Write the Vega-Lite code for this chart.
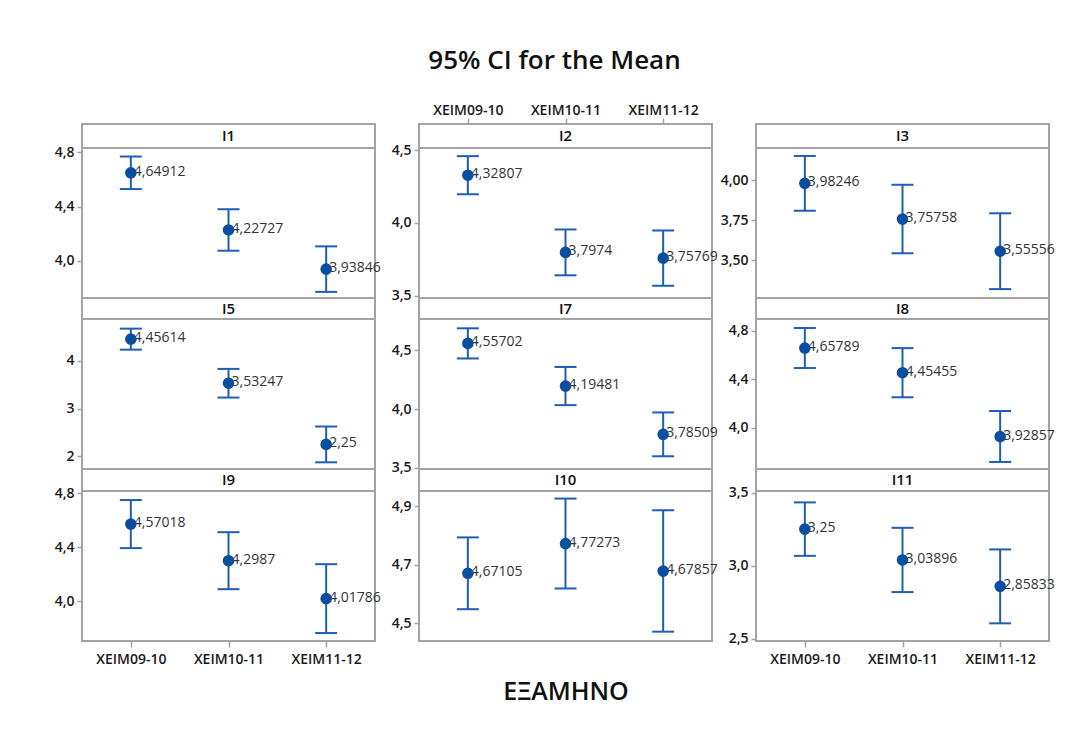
{
  "$schema": "https://vega.github.io/schema/vega-lite/v6.json",
  "padding": {"left": 53, "top": 48, "right": 5, "bottom": 5},
  "title": {"text": "95% CI for the Mean", "font": "Open Sans", "fontSize": 26, "fontWeight": 600, "color": "#111111", "anchor": "middle", "offset": 28},
  "datasets": {
    "ci": [
      {"panel": "I1", "group": "XEIM09-10", "mean": 4.64912, "lo": 4.529, "hi": 4.769},
      {"panel": "I1", "group": "XEIM10-11", "mean": 4.22727, "lo": 4.074, "hi": 4.380},
      {"panel": "I1", "group": "XEIM11-12", "mean": 3.93846, "lo": 3.770, "hi": 4.106},
      {"panel": "I2", "group": "XEIM09-10", "mean": 4.32807, "lo": 4.197, "hi": 4.459},
      {"panel": "I2", "group": "XEIM10-11", "mean": 3.7974, "lo": 3.640, "hi": 3.955},
      {"panel": "I2", "group": "XEIM11-12", "mean": 3.75769, "lo": 3.568, "hi": 3.948},
      {"panel": "I3", "group": "XEIM09-10", "mean": 3.98246, "lo": 3.810, "hi": 4.154},
      {"panel": "I3", "group": "XEIM10-11", "mean": 3.75758, "lo": 3.543, "hi": 3.973},
      {"panel": "I3", "group": "XEIM11-12", "mean": 3.55556, "lo": 3.318, "hi": 3.794},
      {"panel": "I5", "group": "XEIM09-10", "mean": 4.45614, "lo": 4.236, "hi": 4.676},
      {"panel": "I5", "group": "XEIM10-11", "mean": 3.53247, "lo": 3.232, "hi": 3.832},
      {"panel": "I5", "group": "XEIM11-12", "mean": 2.25, "lo": 1.875, "hi": 2.625},
      {"panel": "I7", "group": "XEIM09-10", "mean": 4.55702, "lo": 4.429, "hi": 4.685},
      {"panel": "I7", "group": "XEIM10-11", "mean": 4.19481, "lo": 4.033, "hi": 4.357},
      {"panel": "I7", "group": "XEIM11-12", "mean": 3.78509, "lo": 3.599, "hi": 3.971},
      {"panel": "I8", "group": "XEIM09-10", "mean": 4.65789, "lo": 4.493, "hi": 4.823},
      {"panel": "I8", "group": "XEIM10-11", "mean": 4.45455, "lo": 4.252, "hi": 4.657},
      {"panel": "I8", "group": "XEIM11-12", "mean": 3.92857, "lo": 3.719, "hi": 4.139},
      {"panel": "I9", "group": "XEIM09-10", "mean": 4.57018, "lo": 4.392, "hi": 4.748},
      {"panel": "I9", "group": "XEIM10-11", "mean": 4.2987, "lo": 4.088, "hi": 4.510},
      {"panel": "I9", "group": "XEIM11-12", "mean": 4.01786, "lo": 3.763, "hi": 4.273},
      {"panel": "I10", "group": "XEIM09-10", "mean": 4.67105, "lo": 4.548, "hi": 4.794},
      {"panel": "I10", "group": "XEIM10-11", "mean": 4.77273, "lo": 4.619, "hi": 4.927},
      {"panel": "I10", "group": "XEIM11-12", "mean": 4.67857, "lo": 4.471, "hi": 4.887},
      {"panel": "I11", "group": "XEIM09-10", "mean": 3.25, "lo": 3.067, "hi": 3.433},
      {"panel": "I11", "group": "XEIM10-11", "mean": 3.03896, "lo": 2.819, "hi": 3.259},
      {"panel": "I11", "group": "XEIM11-12", "mean": 2.85833, "lo": 2.605, "hi": 3.111}
    ],
    "panels": [
      {"panel": "I1"}, {"panel": "I2"}, {"panel": "I3"},
      {"panel": "I5"}, {"panel": "I7"}, {"panel": "I8"},
      {"panel": "I9"}, {"panel": "I10"}, {"panel": "I11"}
    ]
  },
  "columns": 3,
  "spacing": {"row": 0, "column": 44},
  "bounds": "flush",
  "align": "each",
  "concat": [
    {"width": 293, "height": 24, "layer": [
      {"data": {"name": "ci"}, "transform": [{"filter": "datum.panel === 'I1'"}], "mark": {"type": "point", "opacity": 0}, "encoding": {"x": {"field": "group", "type": "ordinal", "sort": null, "scale": {"type": "point", "padding": 0.5}, "axis": null}}},
      {"data": {"name": "panels"}, "transform": [{"filter": "datum.panel === 'I1'"}], "mark": {"type": "text", "font": "Open Sans", "fontSize": 15, "fontWeight": 600, "color": "#111111"}, "encoding": {"text": {"field": "panel"}}}]},
    {"width": 293, "height": 24, "layer": [
      {"data": {"name": "ci"}, "transform": [{"filter": "datum.panel === 'I2'"}], "mark": {"type": "point", "opacity": 0}, "encoding": {"x": {"field": "group", "type": "ordinal", "sort": null, "title": null, "scale": {"type": "point", "padding": 0.5}, "axis": {"orient": "top", "labelAngle": 0, "labelPadding": 1}}}},
      {"data": {"name": "panels"}, "transform": [{"filter": "datum.panel === 'I2'"}], "mark": {"type": "text", "font": "Open Sans", "fontSize": 15, "fontWeight": 600, "color": "#111111"}, "encoding": {"text": {"field": "panel"}}}]},
    {"width": 293, "height": 24, "layer": [
      {"data": {"name": "ci"}, "transform": [{"filter": "datum.panel === 'I3'"}], "mark": {"type": "point", "opacity": 0}, "encoding": {"x": {"field": "group", "type": "ordinal", "sort": null, "scale": {"type": "point", "padding": 0.5}, "axis": null}}},
      {"data": {"name": "panels"}, "transform": [{"filter": "datum.panel === 'I3'"}], "mark": {"type": "text", "font": "Open Sans", "fontSize": 15, "fontWeight": 600, "color": "#111111"}, "encoding": {"text": {"field": "panel"}}}]},

    {"width": 293, "height": 150, "data": {"name": "ci"}, "transform": [{"filter": "datum.panel === 'I1'"}],
      "encoding": {"x": {"field": "group", "type": "ordinal", "sort": null, "scale": {"type": "point", "padding": 0.5}, "axis": null}},
      "layer": [
        {"mark": {"type": "text", "align": "left", "baseline": "middle", "dx": 3, "dy": -1, "font": "Open Sans", "fontSize": 14, "color": "#333333"}, "encoding": {"y": {"field": "mean", "type": "quantitative", "title": null, "scale": {"domain": [3.725, 4.832], "nice": false, "zero": false}, "axis": {"values": [4.0, 4.4, 4.8], "format": ".1f"}}, "text": {"field": "mean", "type": "quantitative", "format": ".6~r"}}},
        {"mark": {"type": "rule", "strokeWidth": 2, "color": "#1e5eb3"}, "encoding": {"y": {"field": "lo", "type": "quantitative", "title": null}, "y2": {"field": "hi"}}},
        {"mark": {"type": "tick", "size": 22, "thickness": 2, "color": "#1e5eb3", "opacity": 1}, "encoding": {"y": {"field": "lo", "type": "quantitative", "title": null}}},
        {"mark": {"type": "tick", "size": 22, "thickness": 2, "color": "#1e5eb3", "opacity": 1}, "encoding": {"y": {"field": "hi", "type": "quantitative", "title": null}}},
        {"mark": {"type": "circle", "size": 135, "color": "#0a4f9f", "opacity": 1}, "encoding": {"y": {"field": "mean", "type": "quantitative", "title": null}}}
      ]},
    {"width": 293, "height": 150, "data": {"name": "ci"}, "transform": [{"filter": "datum.panel === 'I2'"}],
      "encoding": {"x": {"field": "group", "type": "ordinal", "sort": null, "scale": {"type": "point", "padding": 0.5}, "axis": null}},
      "layer": [
        {"mark": {"type": "text", "align": "left", "baseline": "middle", "dx": 3, "dy": -1, "font": "Open Sans", "fontSize": 14, "color": "#333333"}, "encoding": {"y": {"field": "mean", "type": "quantitative", "title": null, "scale": {"domain": [3.484, 4.515], "nice": false, "zero": false}, "axis": {"values": [3.5, 4.0, 4.5], "format": ".1f"}}, "text": {"field": "mean", "type": "quantitative", "format": ".6~r"}}},
        {"mark": {"type": "rule", "strokeWidth": 2, "color": "#1e5eb3"}, "encoding": {"y": {"field": "lo", "type": "quantitative", "title": null}, "y2": {"field": "hi"}}},
        {"mark": {"type": "tick", "size": 22, "thickness": 2, "color": "#1e5eb3", "opacity": 1}, "encoding": {"y": {"field": "lo", "type": "quantitative", "title": null}}},
        {"mark": {"type": "tick", "size": 22, "thickness": 2, "color": "#1e5eb3", "opacity": 1}, "encoding": {"y": {"field": "hi", "type": "quantitative", "title": null}}},
        {"mark": {"type": "circle", "size": 135, "color": "#0a4f9f", "opacity": 1}, "encoding": {"y": {"field": "mean", "type": "quantitative", "title": null}}}
      ]},
    {"width": 293, "height": 150, "data": {"name": "ci"}, "transform": [{"filter": "datum.panel === 'I3'"}],
      "encoding": {"x": {"field": "group", "type": "ordinal", "sort": null, "scale": {"type": "point", "padding": 0.5}, "axis": null}},
      "layer": [
        {"mark": {"type": "text", "align": "left", "baseline": "middle", "dx": 3, "dy": -1, "font": "Open Sans", "fontSize": 14, "color": "#333333"}, "encoding": {"y": {"field": "mean", "type": "quantitative", "title": null, "scale": {"domain": [3.262, 4.204], "nice": false, "zero": false}, "axis": {"values": [3.5, 3.75, 4.0], "format": ".2f"}}, "text": {"field": "mean", "type": "quantitative", "format": ".6~r"}}},
        {"mark": {"type": "rule", "strokeWidth": 2, "color": "#1e5eb3"}, "encoding": {"y": {"field": "lo", "type": "quantitative", "title": null}, "y2": {"field": "hi"}}},
        {"mark": {"type": "tick", "size": 22, "thickness": 2, "color": "#1e5eb3", "opacity": 1}, "encoding": {"y": {"field": "lo", "type": "quantitative", "title": null}}},
        {"mark": {"type": "tick", "size": 22, "thickness": 2, "color": "#1e5eb3", "opacity": 1}, "encoding": {"y": {"field": "hi", "type": "quantitative", "title": null}}},
        {"mark": {"type": "circle", "size": 135, "color": "#0a4f9f", "opacity": 1}, "encoding": {"y": {"field": "mean", "type": "quantitative", "title": null}}}
      ]},

    {"width": 293, "height": 21, "layer": [
      {"data": {"name": "ci"}, "transform": [{"filter": "datum.panel === 'I5'"}], "mark": {"type": "point", "opacity": 0}, "encoding": {"x": {"field": "group", "type": "ordinal", "sort": null, "scale": {"type": "point", "padding": 0.5}, "axis": null}}},
      {"data": {"name": "panels"}, "transform": [{"filter": "datum.panel === 'I5'"}], "mark": {"type": "text", "font": "Open Sans", "fontSize": 15, "fontWeight": 600, "color": "#111111"}, "encoding": {"text": {"field": "panel"}}}]},
    {"width": 293, "height": 21, "layer": [
      {"data": {"name": "ci"}, "transform": [{"filter": "datum.panel === 'I7'"}], "mark": {"type": "point", "opacity": 0}, "encoding": {"x": {"field": "group", "type": "ordinal", "sort": null, "scale": {"type": "point", "padding": 0.5}, "axis": null}}},
      {"data": {"name": "panels"}, "transform": [{"filter": "datum.panel === 'I7'"}], "mark": {"type": "text", "font": "Open Sans", "fontSize": 15, "fontWeight": 600, "color": "#111111"}, "encoding": {"text": {"field": "panel"}}}]},
    {"width": 293, "height": 21, "layer": [
      {"data": {"name": "ci"}, "transform": [{"filter": "datum.panel === 'I8'"}], "mark": {"type": "point", "opacity": 0}, "encoding": {"x": {"field": "group", "type": "ordinal", "sort": null, "scale": {"type": "point", "padding": 0.5}, "axis": null}}},
      {"data": {"name": "panels"}, "transform": [{"filter": "datum.panel === 'I8'"}], "mark": {"type": "text", "font": "Open Sans", "fontSize": 15, "fontWeight": 600, "color": "#111111"}, "encoding": {"text": {"field": "panel"}}}]},

    {"width": 293, "height": 150, "data": {"name": "ci"}, "transform": [{"filter": "datum.panel === 'I5'"}],
      "encoding": {"x": {"field": "group", "type": "ordinal", "sort": null, "scale": {"type": "point", "padding": 0.5}, "axis": null}},
      "layer": [
        {"mark": {"type": "text", "align": "left", "baseline": "middle", "dx": 3, "dy": -1, "font": "Open Sans", "fontSize": 14, "color": "#333333"}, "encoding": {"y": {"field": "mean", "type": "quantitative", "title": null, "scale": {"domain": [1.735, 4.878], "nice": false, "zero": false}, "axis": {"values": [2, 3, 4], "format": ".0f"}}, "text": {"field": "mean", "type": "quantitative", "format": ".6~r"}}},
        {"mark": {"type": "rule", "strokeWidth": 2, "color": "#1e5eb3"}, "encoding": {"y": {"field": "lo", "type": "quantitative", "title": null}, "y2": {"field": "hi"}}},
        {"mark": {"type": "tick", "size": 22, "thickness": 2, "color": "#1e5eb3", "opacity": 1}, "encoding": {"y": {"field": "lo", "type": "quantitative", "title": null}}},
        {"mark": {"type": "tick", "size": 22, "thickness": 2, "color": "#1e5eb3", "opacity": 1}, "encoding": {"y": {"field": "hi", "type": "quantitative", "title": null}}},
        {"mark": {"type": "circle", "size": 135, "color": "#0a4f9f", "opacity": 1}, "encoding": {"y": {"field": "mean", "type": "quantitative", "title": null}}}
      ]},
    {"width": 293, "height": 150, "data": {"name": "ci"}, "transform": [{"filter": "datum.panel === 'I7'"}],
      "encoding": {"x": {"field": "group", "type": "ordinal", "sort": null, "scale": {"type": "point", "padding": 0.5}, "axis": null}},
      "layer": [
        {"mark": {"type": "text", "align": "left", "baseline": "middle", "dx": 3, "dy": -1, "font": "Open Sans", "fontSize": 14, "color": "#333333"}, "encoding": {"y": {"field": "mean", "type": "quantitative", "title": null, "scale": {"domain": [3.491, 4.764], "nice": false, "zero": false}, "axis": {"values": [3.5, 4.0, 4.5], "format": ".1f"}}, "text": {"field": "mean", "type": "quantitative", "format": ".6~r"}}},
        {"mark": {"type": "rule", "strokeWidth": 2, "color": "#1e5eb3"}, "encoding": {"y": {"field": "lo", "type": "quantitative", "title": null}, "y2": {"field": "hi"}}},
        {"mark": {"type": "tick", "size": 22, "thickness": 2, "color": "#1e5eb3", "opacity": 1}, "encoding": {"y": {"field": "lo", "type": "quantitative", "title": null}}},
        {"mark": {"type": "tick", "size": 22, "thickness": 2, "color": "#1e5eb3", "opacity": 1}, "encoding": {"y": {"field": "hi", "type": "quantitative", "title": null}}},
        {"mark": {"type": "circle", "size": 135, "color": "#0a4f9f", "opacity": 1}, "encoding": {"y": {"field": "mean", "type": "quantitative", "title": null}}}
      ]},
    {"width": 293, "height": 150, "data": {"name": "ci"}, "transform": [{"filter": "datum.panel === 'I8'"}],
      "encoding": {"x": {"field": "group", "type": "ordinal", "sort": null, "scale": {"type": "point", "padding": 0.5}, "axis": null}},
      "layer": [
        {"mark": {"type": "text", "align": "left", "baseline": "middle", "dx": 3, "dy": -1, "font": "Open Sans", "fontSize": 14, "color": "#333333"}, "encoding": {"y": {"field": "mean", "type": "quantitative", "title": null, "scale": {"domain": [3.661, 4.897], "nice": false, "zero": false}, "axis": {"values": [4.0, 4.4, 4.8], "format": ".1f"}}, "text": {"field": "mean", "type": "quantitative", "format": ".6~r"}}},
        {"mark": {"type": "rule", "strokeWidth": 2, "color": "#1e5eb3"}, "encoding": {"y": {"field": "lo", "type": "quantitative", "title": null}, "y2": {"field": "hi"}}},
        {"mark": {"type": "tick", "size": 22, "thickness": 2, "color": "#1e5eb3", "opacity": 1}, "encoding": {"y": {"field": "lo", "type": "quantitative", "title": null}}},
        {"mark": {"type": "tick", "size": 22, "thickness": 2, "color": "#1e5eb3", "opacity": 1}, "encoding": {"y": {"field": "hi", "type": "quantitative", "title": null}}},
        {"mark": {"type": "circle", "size": 135, "color": "#0a4f9f", "opacity": 1}, "encoding": {"y": {"field": "mean", "type": "quantitative", "title": null}}}
      ]},

    {"width": 293, "height": 22, "layer": [
      {"data": {"name": "ci"}, "transform": [{"filter": "datum.panel === 'I9'"}], "mark": {"type": "point", "opacity": 0}, "encoding": {"x": {"field": "group", "type": "ordinal", "sort": null, "scale": {"type": "point", "padding": 0.5}, "axis": null}}},
      {"data": {"name": "panels"}, "transform": [{"filter": "datum.panel === 'I9'"}], "mark": {"type": "text", "font": "Open Sans", "fontSize": 15, "fontWeight": 600, "color": "#111111"}, "encoding": {"text": {"field": "panel"}}}]},
    {"width": 293, "height": 22, "layer": [
      {"data": {"name": "ci"}, "transform": [{"filter": "datum.panel === 'I10'"}], "mark": {"type": "point", "opacity": 0}, "encoding": {"x": {"field": "group", "type": "ordinal", "sort": null, "scale": {"type": "point", "padding": 0.5}, "axis": null}}},
      {"data": {"name": "panels"}, "transform": [{"filter": "datum.panel === 'I10'"}], "mark": {"type": "text", "font": "Open Sans", "fontSize": 15, "fontWeight": 600, "color": "#111111"}, "encoding": {"text": {"field": "panel"}}}]},
    {"width": 293, "height": 22, "layer": [
      {"data": {"name": "ci"}, "transform": [{"filter": "datum.panel === 'I11'"}], "mark": {"type": "point", "opacity": 0}, "encoding": {"x": {"field": "group", "type": "ordinal", "sort": null, "scale": {"type": "point", "padding": 0.5}, "axis": null}}},
      {"data": {"name": "panels"}, "transform": [{"filter": "datum.panel === 'I11'"}], "mark": {"type": "text", "font": "Open Sans", "fontSize": 15, "fontWeight": 600, "color": "#111111"}, "encoding": {"text": {"field": "panel"}}}]},

    {"width": 293, "height": 150, "data": {"name": "ci"}, "transform": [{"filter": "datum.panel === 'I9'"}],
      "encoding": {"x": {"field": "group", "type": "ordinal", "sort": null, "title": null, "scale": {"type": "point", "padding": 0.5}, "axis": {"orient": "bottom", "labelAngle": 0, "labelPadding": 5}}},
      "layer": [
        {"mark": {"type": "text", "align": "left", "baseline": "middle", "dx": 3, "dy": -1, "font": "Open Sans", "fontSize": 14, "color": "#333333"}, "encoding": {"y": {"field": "mean", "type": "quantitative", "title": null, "scale": {"domain": [3.704, 4.815], "nice": false, "zero": false}, "axis": {"values": [4.0, 4.4, 4.8], "format": ".1f"}}, "text": {"field": "mean", "type": "quantitative", "format": ".6~r"}}},
        {"mark": {"type": "rule", "strokeWidth": 2, "color": "#1e5eb3"}, "encoding": {"y": {"field": "lo", "type": "quantitative", "title": null}, "y2": {"field": "hi"}}},
        {"mark": {"type": "tick", "size": 22, "thickness": 2, "color": "#1e5eb3", "opacity": 1}, "encoding": {"y": {"field": "lo", "type": "quantitative", "title": null}}},
        {"mark": {"type": "tick", "size": 22, "thickness": 2, "color": "#1e5eb3", "opacity": 1}, "encoding": {"y": {"field": "hi", "type": "quantitative", "title": null}}},
        {"mark": {"type": "circle", "size": 135, "color": "#0a4f9f", "opacity": 1}, "encoding": {"y": {"field": "mean", "type": "quantitative", "title": null}}}
      ]},
    {"width": 293, "height": 150, "data": {"name": "ci"}, "transform": [{"filter": "datum.panel === 'I10'"}],
      "encoding": {"x": {"field": "group", "type": "ordinal", "sort": null, "title": "ΕΞΑΜΗΝΟ", "scale": {"type": "point", "padding": 0.5}, "axis": {"orient": "bottom", "labels": false, "ticks": false, "domain": false, "titleFont": "Open Sans", "titleFontSize": 25, "titleFontWeight": 600, "titleColor": "#111111", "titlePadding": 38}}},
      "layer": [
        {"mark": {"type": "text", "align": "left", "baseline": "middle", "dx": 3, "dy": -1, "font": "Open Sans", "fontSize": 14, "color": "#333333"}, "encoding": {"y": {"field": "mean", "type": "quantitative", "title": null, "scale": {"domain": [4.439, 4.953], "nice": false, "zero": false}, "axis": {"values": [4.5, 4.7, 4.9], "format": ".1f"}}, "text": {"field": "mean", "type": "quantitative", "format": ".6~r"}}},
        {"mark": {"type": "rule", "strokeWidth": 2, "color": "#1e5eb3"}, "encoding": {"y": {"field": "lo", "type": "quantitative", "title": null}, "y2": {"field": "hi"}}},
        {"mark": {"type": "tick", "size": 22, "thickness": 2, "color": "#1e5eb3", "opacity": 1}, "encoding": {"y": {"field": "lo", "type": "quantitative", "title": null}}},
        {"mark": {"type": "tick", "size": 22, "thickness": 2, "color": "#1e5eb3", "opacity": 1}, "encoding": {"y": {"field": "hi", "type": "quantitative", "title": null}}},
        {"mark": {"type": "circle", "size": 135, "color": "#0a4f9f", "opacity": 1}, "encoding": {"y": {"field": "mean", "type": "quantitative", "title": null}}}
      ]},
    {"width": 293, "height": 150, "data": {"name": "ci"}, "transform": [{"filter": "datum.panel === 'I11'"}],
      "encoding": {"x": {"field": "group", "type": "ordinal", "sort": null, "title": null, "scale": {"type": "point", "padding": 0.5}, "axis": {"orient": "bottom", "labelAngle": 0, "labelPadding": 5}}},
      "layer": [
        {"mark": {"type": "text", "align": "left", "baseline": "middle", "dx": 3, "dy": -1, "font": "Open Sans", "fontSize": 14, "color": "#333333"}, "encoding": {"y": {"field": "mean", "type": "quantitative", "title": null, "scale": {"domain": [2.484, 3.511], "nice": false, "zero": false}, "axis": {"values": [2.5, 3.0, 3.5], "format": ".1f"}}, "text": {"field": "mean", "type": "quantitative", "format": ".6~r"}}},
        {"mark": {"type": "rule", "strokeWidth": 2, "color": "#1e5eb3"}, "encoding": {"y": {"field": "lo", "type": "quantitative", "title": null}, "y2": {"field": "hi"}}},
        {"mark": {"type": "tick", "size": 22, "thickness": 2, "color": "#1e5eb3", "opacity": 1}, "encoding": {"y": {"field": "lo", "type": "quantitative", "title": null}}},
        {"mark": {"type": "tick", "size": 22, "thickness": 2, "color": "#1e5eb3", "opacity": 1}, "encoding": {"y": {"field": "hi", "type": "quantitative", "title": null}}},
        {"mark": {"type": "circle", "size": 135, "color": "#0a4f9f", "opacity": 1}, "encoding": {"y": {"field": "mean", "type": "quantitative", "title": null}}}
      ]}
  ],
  "config": {
    "locale": {"number": {"decimal": ",", "thousands": ".", "grouping": [3], "currency": ["", " €"]}},
    "view": {"stroke": "#a3a3a3", "strokeWidth": 2},
    "axis": {"labelFont": "Open Sans", "labelFontSize": 14, "labelFontWeight": 600, "labelColor": "#1a1a1a", "tickColor": "#a3a3a3", "tickSize": 5, "tickWidth": 1.5, "domain": false, "grid": false, "labelPadding": 3},
    "axisX": {"labelFontSize": 14, "tickSize": 6, "labelPadding": 3}
  }
}
